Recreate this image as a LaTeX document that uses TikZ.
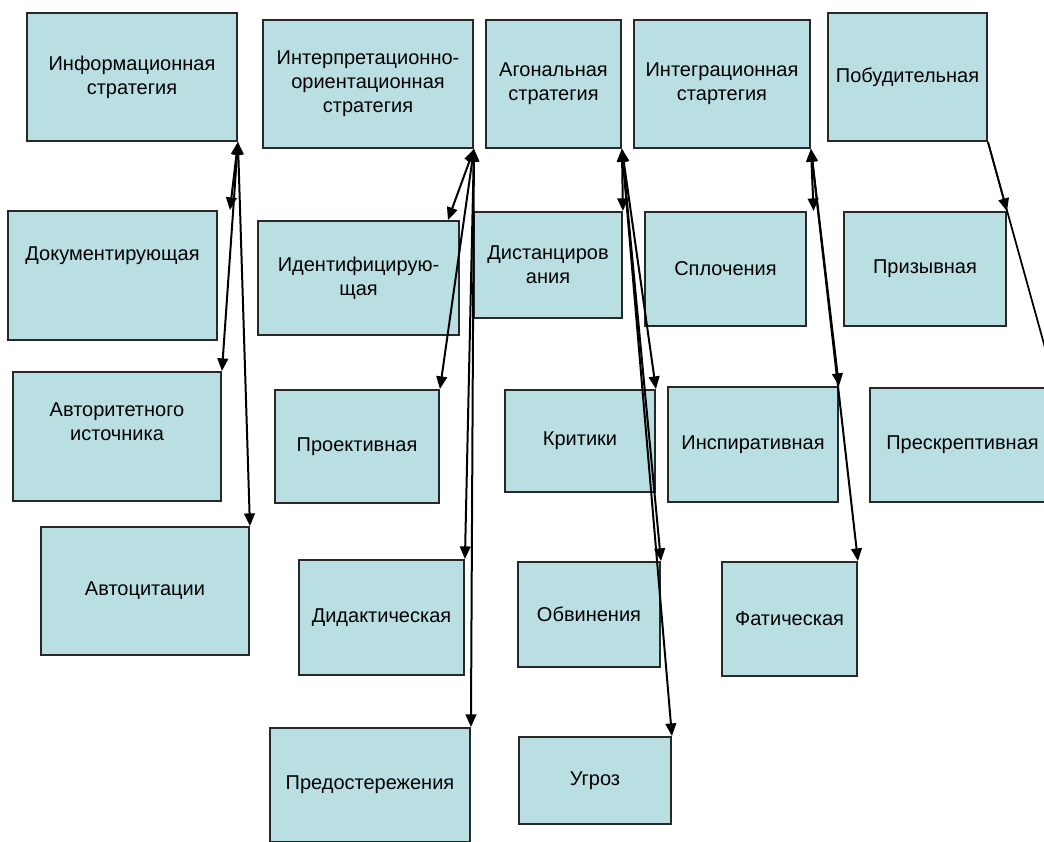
\documentclass[tikz,border=0pt]{standalone}
\usepackage{fontspec}
\setmainfont{Liberation Sans}
\usetikzlibrary{arrows.meta}

\definecolor{boxblue}{RGB}{185,223,227}
\definecolor{boxline}{RGB}{40,40,40}

\begin{document}
\begin{tikzpicture}[x=0.75pt, y=-0.75pt,
    >={Triangle[length=9.5pt,width=8pt]},
    box/.style 2 args={draw=boxline, fill=boxblue, line width=1.4pt, inner sep=0pt,
        align=center, font=\fontsize{15pt}{18pt}\selectfont,
        minimum width=#1*0.75pt, minimum height=#2*0.75pt},
    link/.style={<->, line width=1.5pt},
    onelink/.style={->, line width=1.3pt}]
            \useasboundingbox (0,0) rectangle (1044,841);
            \clip (0,0) rectangle (1044,841);

            % Draw the top row of strategies
            \node[box={210}{128}] (info) at (132,77) {Информационная\\стратегия};
            \node[box={210}{128}] (interp) at (368,84) {Интерпретационно-\\ориентационная\\стратегия};
            \node[box={135}{128}] (agon) at (553.5,84) {Агональная\\стратегия};
            \node[box={176}{128}] (integr) at (722,84) {Интеграционная\\стартегия};
            \node[box={159}{128}] (pobud) at (907.5,77) {Побудительная};

            % Draw the first column
            \node[box={209}{129}, text depth=33pt] (docum) at (112.5,275.5) {Документирующая};
            \node[box={208}{129}, text depth=22pt] (avtor) at (117,436.5) {Авторитетного\\источника};
            \node[box={208}{128}] (avtocit) at (145,591) {Автоцитации};

            % Draw the second column
            \node[box={201}{114}] (ident) at (358.5,278) {Идентифицирую-\\щая};
            \node[box={164}{113}] (proekt) at (357,446.5) {Проективная};
            \node[box={165}{115}] (didakt) at (381.5,617.5) {Дидактическая};
            \node[box={200}{114}] (predost) at (370,785) {Предостережения};

            % Draw the third column
            \node[box={148}{106}] (distanc) at (548,265) {Дистанциров\\ания};
            \node[box={150}{102}] (kritik) at (580,441) {Критики};
            \node[box={142}{105}] (obvin) at (589,614.5) {Обвинения};
            \node[box={152}{87}] (ugroz) at (595,780.5) {Угроз};

            % Draw the fourth column
            \node[box={161}{114}] (splotch) at (725.5,269) {Сплочения};
            \node[box={170}{115}] (inspir) at (753,444.5) {Инспиративная};
            \node[box={135}{114}] (fatich) at (789.5,619) {Фатическая};

            % Draw the fifth column
            \node[box={162}{114}] (prizyv) at (925,269) {Призывная};
            \node[box={185}{114}] (preskr) at (962.5,445) {Прескрептивная};

            % Draw the arrows from each strategy
            \draw[link] (info.south east) -- ([xshift=9pt]docum.north east);
            \draw[link] (info.south east) -- (avtor.north east);
            \draw[link] (info.south east) -- (avtocit.north east);

            \draw[link] (interp.south east) -- ([xshift=-9pt]ident.north east);
            \draw[link] (interp.south east) -- (proekt.north east);
            \draw[link] (interp.south east) -- (didakt.north east);
            \draw[link] (interp.south east) -- (predost.north east);

            \draw[link] (agon.south east) -- (distanc.north east);
            \draw[link] (agon.south east) -- (kritik.north east);
            \draw[link] (agon.south east) -- (obvin.north east);
            \draw[link] (agon.south east) -- (ugroz.north east);

            \draw[link] (integr.south east) -- ([xshift=5pt]splotch.north east);
            \draw[link] (integr.south east) -- (inspir.north east);
            \draw[link] (integr.south east) -- (fatich.north east);

            \draw[onelink] (pobud.south east) -- (prizyv.north east);
            \draw[onelink] (pobud.south east) -- (preskr.north east);

        \end{tikzpicture}
\end{document}
